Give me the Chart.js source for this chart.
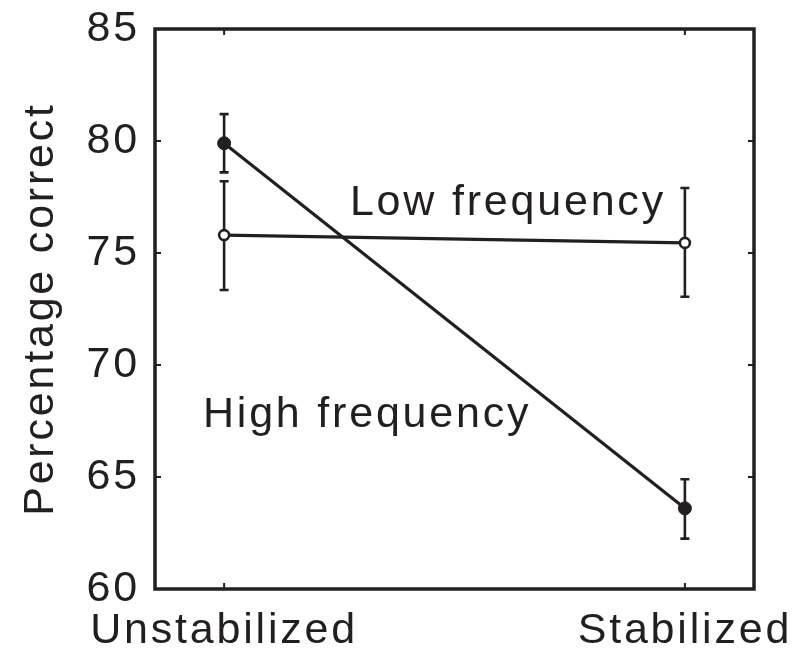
<!DOCTYPE html>
<html lang="en">
<head>
    <meta charset="UTF-8">
    <title>Percentage correct</title>
    <script src="https://cdn.jsdelivr.net/npm/chart.js"></script>
    <style>
        html, body { margin: 0; padding: 0; background: #fff; }
        #wrap { width: 798px; height: 659px; }
    </style>
</head>
<body>
    <div id="wrap"><canvas id="chart"></canvas></div>
    <script>
        // values
        const categories = ['Unstabilized', 'Stabilized'];
        const yTicks = [60, 65, 70, 75, 80, 85];
        const highFreq = [79.9, 63.6];
        const highFreqUpper = [81.2, 64.9];
        const highFreqLower = [78.6, 62.25];
        const lowFreq = [75.8, 75.45];
        const lowFreqUpper = [78.2, 77.9];
        const lowFreqLower = [73.35, 73.05];
        const seriesNames = ['High frequency', 'Low frequency'];

        const ink = '#231f20';
        const spacing = '2.8px';
        const font = { family: '"Liberation Sans", Arial, Helvetica, sans-serif', size: 43 };

        const errors = [
            { upper: highFreqUpper, lower: highFreqLower },
            { upper: lowFreqUpper, lower: lowFreqLower }
        ];

        const framePlugin = {
            id: 'frame',
            beforeLayout(chart) { chart.ctx.letterSpacing = spacing; },
            beforeDraw(chart) { chart.ctx.letterSpacing = spacing; },
            beforeDatasetsDraw(chart) {
                const { ctx, chartArea: a, scales: { x, y } } = chart;
                ctx.save();
                ctx.strokeStyle = ink;
                ctx.lineWidth = 3.5;
                ctx.strokeRect(a.left, a.top, a.right - a.left, a.bottom - a.top);

                // inward ticks on all four sides
                ctx.lineWidth = 2;
                ctx.beginPath();
                y.ticks.forEach(t => {
                    const py = y.getPixelForValue(t.value);
                    ctx.moveTo(a.left, py); ctx.lineTo(a.left + 6, py);
                    ctx.moveTo(a.right, py); ctx.lineTo(a.right - 6, py);
                });
                x.ticks.forEach(t => {
                    const px = x.getPixelForValue(t.value);
                    ctx.moveTo(px, a.top); ctx.lineTo(px, a.top + 6);
                    ctx.moveTo(px, a.bottom); ctx.lineTo(px, a.bottom - 6);
                });
                ctx.stroke();

                // error bars
                ctx.lineWidth = 2.6;
                ctx.beginPath();
                errors.forEach(e => {
                    e.upper.forEach((hi, i) => {
                        const px = x.getPixelForValue(i);
                        const top = y.getPixelForValue(hi);
                        const bot = y.getPixelForValue(e.lower[i]);
                        ctx.moveTo(px, top); ctx.lineTo(px, bot);
                        ctx.moveTo(px - 4.5, top); ctx.lineTo(px + 4.5, top);
                        ctx.moveTo(px - 4.5, bot); ctx.lineTo(px + 4.5, bot);
                    });
                });
                ctx.stroke();
                ctx.restore();
            },
            afterDraw(chart) {
                const { ctx, scales: { x, y } } = chart;
                // series names placed in data units
                const anchors = [[-0.046, 67.23], [0.273, 76.7]];
                ctx.save();
                ctx.letterSpacing = spacing;
                ctx.fillStyle = ink;
                ctx.font = `${font.size}px ${font.family}`;
                ctx.textAlign = 'left';
                ctx.textBaseline = 'alphabetic';
                seriesNames.forEach((name, i) => {
                    ctx.fillText(name, x.getPixelForValue(anchors[i][0]), y.getPixelForValue(anchors[i][1]));
                });
                ctx.restore();
            }
        };

        new Chart(document.getElementById('chart'), {
            type: 'line',
            data: {
                datasets: [{
                    label: seriesNames[0],
                    data: highFreq.map((v, i) => ({ x: i, y: v })),
                    borderColor: ink,
                    borderWidth: 3.2,
                    pointRadius: 6.5,
                    pointBackgroundColor: ink,
                    pointBorderColor: ink,
                    pointBorderWidth: 1,
                    tension: 0
                }, {
                    label: seriesNames[1],
                    data: lowFreq.map((v, i) => ({ x: i, y: v })),
                    borderColor: ink,
                    borderWidth: 3.2,
                    pointRadius: 5,
                    pointBackgroundColor: '#fff',
                    pointBorderColor: ink,
                    pointBorderWidth: 2.6,
                    tension: 0
                }]
            },
            options: {
                responsive: true,
                maintainAspectRatio: false,
                animation: false,
                layout: { padding: { top: 29, right: 44, left: 0, bottom: 0 } },
                plugins: { legend: { display: false }, tooltip: { enabled: false } },
                scales: {
                    x: {
                        type: 'linear',
                        min: -0.15,
                        max: 1.15,
                        afterBuildTicks: s => { s.ticks = categories.map((c, i) => ({ value: i })); },
                        afterFit: s => { s.height = 70; s.paddingLeft = 0; s.paddingRight = 0; },
                        grid: { display: false, drawTicks: false },
                        border: { display: false },
                        ticks: {
                            callback: v => categories[v] ?? '',
                            color: ink,
                            font: font,
                            padding: 16,
                            maxRotation: 0,
                            autoSkip: false
                        }
                    },
                    y: {
                        min: 60,
                        max: 85,
                        afterBuildTicks: s => { s.ticks = yTicks.map(v => ({ value: v })); },
                        afterFit: s => { s.width = 155; s.paddingTop = 0; s.paddingBottom = 0; },
                        grid: { display: false, drawTicks: false },
                        border: { display: false },
                        ticks: { color: ink, font: font, padding: 15 },
                        title: {
                            display: true,
                            text: 'Percentage correct',
                            color: ink,
                            font: font,
                            padding: { top: 15, bottom: 0 }
                        }
                    }
                }
            },
            plugins: [framePlugin]
        });
    </script>
</body>
</html>
